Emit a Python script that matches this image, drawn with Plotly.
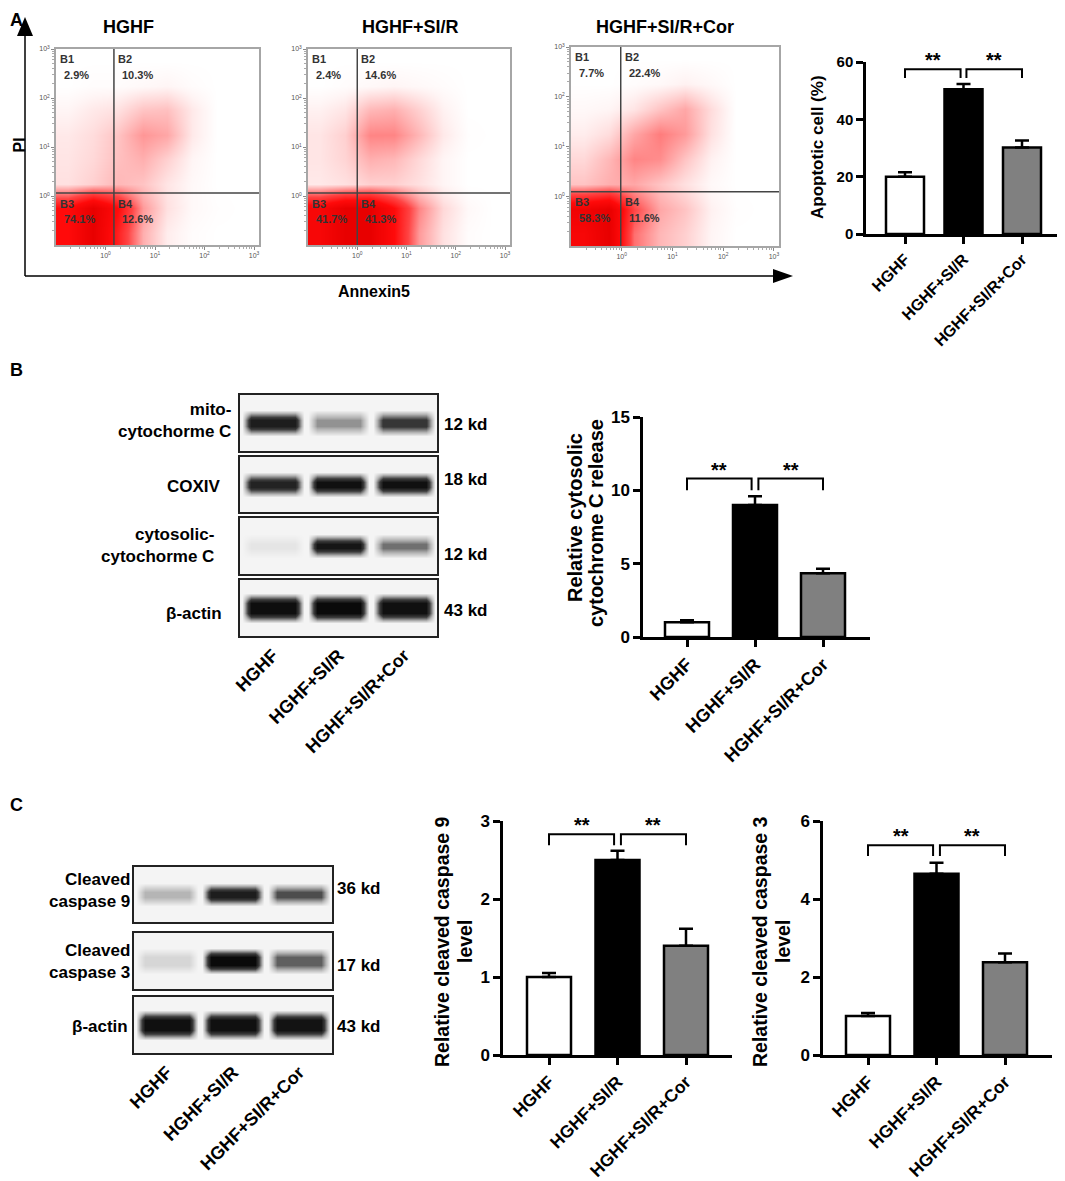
import numpy as np
import plotly.graph_objects as go

W, H = 1065, 1181
OFF = 8  # page body margin; layout is measured in window pixels
FONT = "Arial, Liberation Sans, sans-serif"

GROUPS = ["HGHF", "HGHF+SI/R", "HGHF+SI/R+Cor"]

# --- panel A: Annexin V / PI dot plots -------------------------------------
FLOW_QUADS = ["B1", "B2", "B3", "B4"]
FLOW_PCT = [
    ["2.9%", "10.3%", "74.1%", "12.6%"],
    ["2.4%", "14.6%", "41.7%", "41.3%"],
    ["7.7%", "22.4%", "58.3%", "11.6%"],
]
FLOW_GATE_X = [0.17, 0.0, -0.02]  # log10 Annexin gate
FLOW_GATE_Y = [0.06, 0.06, 0.09]  # log10 PI gate
FLOW_BINS = [-0.75, -0.25, 0.25, 0.75, 1.25, 1.75, 2.25, 2.75]  # log10 bin centres
# event density; rows = PI bins (low -> high), cols = Annexin bins
FLOW_DENSITY = [
    [
        [7, 10, 6, 2, 0.5, 0.1, 0, 0],
        [7, 10, 7, 2.5, 0.8, 0.2, 0.05, 0],
        [0.8, 1.2, 1.8, 1.5, 0.7, 0.2, 0, 0],
        [0.7, 1.0, 1.6, 2.0, 1.2, 0.3, 0, 0],
        [0.6, 0.9, 1.5, 2.6, 2.2, 0.6, 0, 0],
        [0.3, 0.6, 0.8, 1.5, 1.6, 0.6, 0, 0],
        [0, 0.1, 0.1, 0.2, 0.3, 0.1, 0, 0],
        [0, 0, 0, 0, 0, 0, 0, 0],
    ],
    [
        [8, 10, 10, 7, 2.5, 0.8, 0.1, 0],
        [8, 10, 10, 7, 3, 1, 0.2, 0],
        [0.6, 0.8, 1.2, 1.2, 0.8, 0.3, 0, 0],
        [0.7, 1.1, 2.0, 1.8, 1.0, 0.3, 0, 0],
        [0.7, 1.2, 3.0, 3.0, 1.8, 0.6, 0.05, 0],
        [0.4, 0.7, 1.8, 2.0, 1.2, 0.4, 0, 0],
        [0, 0.1, 0.2, 0.3, 0.2, 0.1, 0, 0],
        [0, 0, 0, 0, 0, 0, 0, 0],
    ],
    [
        [8, 10, 3.5, 1.8, 1.2, 0.3, 0, 0],
        [9, 10, 4.5, 2.2, 1.5, 0.4, 0.05, 0],
        [1.5, 2.0, 2.2, 1.5, 0.8, 0.2, 0, 0],
        [1.0, 1.8, 3.0, 2.8, 1.5, 0.4, 0, 0],
        [0.5, 0.9, 2.2, 3.2, 2.5, 0.8, 0, 0],
        [0.2, 0.3, 0.7, 1.5, 2.2, 0.9, 0, 0],
        [0, 0, 0.1, 0.2, 0.4, 0.2, 0, 0],
        [0, 0, 0, 0, 0, 0, 0, 0],
    ],
]

APOP_MEAN = [20.0, 50.5, 30.2]
APOP_ERR = [1.5, 1.8, 2.4]

# --- panel B: cytochrome C western blot -----------------------------------
BLOT_B_LABELS = ["mito-<br>cytochorme C", "COXIV", "cytosolic-<br>cytochorme C", "β-actin"]
BLOT_B_KD = ["12 kd", "18 kd", "12 kd", "43 kd"]
BLOT_B_BANDS = [  # band darkness per lane, 0..1
    [0.85, 0.35, 0.65],
    [0.8, 0.95, 0.95],
    [0.06, 0.9, 0.45],
    [0.97, 1.0, 0.95],
]
CYTC_MEAN = [1.0, 9.0, 4.35]
CYTC_ERR = [0.15, 0.6, 0.3]

# --- panel C: cleaved caspases ---------------------------------------------
BLOT_C_LABELS = ["Cleaved<br>caspase 9", "Cleaved<br>caspase 3", "β-actin"]
BLOT_C_KD = ["36 kd", "17 kd", "43 kd"]
BLOT_C_BANDS = [
    [0.25, 0.85, 0.55],
    [0.12, 1.0, 0.5],
    [0.95, 0.95, 0.93],
]
CASP9_MEAN = [1.0, 2.5, 1.4]
CASP9_ERR = [0.05, 0.12, 0.22]
CASP3_MEAN = [1.0, 4.65, 2.38]
CASP3_ERR = [0.08, 0.28, 0.22]

BAR_COLORS = ["white", "black", "#808080"]

fig = go.Figure()
_n = [0]


def xd(px):
    return (px - OFF) / W


def yd(py):
    return 1 - (py - OFF) / H


def new_axes(l, r, t, b, xkw, ykw):
    _n[0] += 1
    s = "" if _n[0] == 1 else str(_n[0])
    fig.update_layout({
        f"xaxis{s}": dict(domain=[xd(l), xd(r)], anchor=f"y{s}", automargin=False, **xkw),
        f"yaxis{s}": dict(domain=[yd(b), yd(t)], anchor=f"x{s}", automargin=False, **ykw),
    })
    return f"x{s}", f"y{s}"


def text(x, y, s, size, xanchor="center", yanchor="middle", color="black", **kw):
    fig.add_annotation(x=x, y=y, text=s, showarrow=False, xanchor=xanchor, yanchor=yanchor,
                       font=dict(family=FONT, size=size, color=color, weight="bold"), **kw)


def ptext(px, py, s, size, **kw):
    text(xd(px), yd(py), s, size, xref="paper", yref="paper", **kw)


# ---------------------------------------------------------------- panel A
FLOW_BOX = [(56, 49, 259, 245), (308, 49, 510, 245), (571, 47, 779, 246)]
FLOW_TITLE_X = [128, 410, 665]
FLOW_CS = [[0, "#ffffff"], [0.03, "#fff5f5"], [0.12, "#ffd0d0"], [0.25, "#ff9a9a"],
           [0.45, "#ff4444"], [0.7, "#ff0a0a"], [1, "#e80000"]]
minor = [d + np.log10(k) for d in range(-1, 3) for k in range(2, 10)]
dec_txt = ["10<sup>%d</sup>" % d for d in range(4)]

for i, (l, t, r, b) in enumerate(FLOW_BOX):
    frame = dict(showline=True, mirror=True, linecolor="#a6a6a6", linewidth=1.5,
                 showgrid=False, zeroline=False, ticks="outside", ticklen=3, tickcolor="#888",
                 tickvals=list(range(4)), ticktext=dec_txt,
                 tickfont=dict(family=FONT, size=7, color="#555"),
                 minor=dict(tickvals=minor, ticks="outside", ticklen=2, tickcolor="#aaa"))
    xa, ya = new_axes(l, r, t, b, dict(range=[-1, 3.1], **frame), dict(range=[-1, 3], **frame))
    fig.add_trace(go.Heatmap(x=FLOW_BINS, y=FLOW_BINS, z=FLOW_DENSITY[i], zmin=0, zmax=10,
                             zsmooth="best", colorscale=FLOW_CS, showscale=False,
                             hoverinfo="skip", xaxis=xa, yaxis=ya))
    gx, gy = FLOW_GATE_X[i], FLOW_GATE_Y[i]
    gate = dict(color="#444", width=1.5)
    fig.add_shape(type="line", xref=xa, yref=ya, x0=gx, x1=gx, y0=-1, y1=3, line=gate)
    fig.add_shape(type="line", xref=xa, yref=ya, x0=-1, x1=3.1, y0=gy, y1=gy, line=gate)
    corners = [(-1, 3), (gx, 3), (-1, gy), (gx, gy)]
    for q, (cx, cy) in enumerate(corners):
        text(cx + 0.04, cy - 0.05, FLOW_QUADS[q], 11, color="#333", xref=xa, yref=ya,
             xanchor="left", yanchor="top")
        text(cx + 0.12, cy - 0.36, FLOW_PCT[i][q], 11, color="#333", xref=xa, yref=ya,
             xanchor="left", yanchor="top")
    ptext(FLOW_TITLE_X[i], 27, GROUPS[i], 18)

# big PI / Annexin5 arrows
ax_line = dict(color="black", width=1.5)
fig.add_shape(type="line", xref="paper", yref="paper", x0=xd(25), x1=xd(25), y0=yd(276), y1=yd(34), line=ax_line)
fig.add_shape(type="line", xref="paper", yref="paper", x0=xd(25), x1=xd(775), y0=yd(276), y1=yd(276), line=ax_line)
fig.add_shape(type="path", xref="paper", yref="paper", fillcolor="black", line=dict(width=0),
              path=f"M {xd(25)},{yd(17)} L {xd(17)},{yd(36)} L {xd(33)},{yd(36)} Z")
fig.add_shape(type="path", xref="paper", yref="paper", fillcolor="black", line=dict(width=0),
              path=f"M {xd(793)},{yd(276)} L {xd(773)},{yd(269)} L {xd(773)},{yd(283)} Z")
ptext(9, 145, "PI", 16, textangle=-90, xanchor="left")
ptext(374, 292, "Annexin5", 16)

PANEL_LABELS = [("A", OFF), ("B", 358), ("C", 793)]
for s, y in PANEL_LABELS:
    ptext(OFF, y, s, 18, xanchor="left", yanchor="top")


# ---------------------------------------------------------------- bar charts
def bar_panel(means, errs, geo, yticks, brackets, fs, titles, title_fs):
    ax_l, ax_r, y0, ppu, ymax, cx0, step, bw = geo
    line_kw = dict(showline=True, linecolor="black", linewidth=2.5, ticks="outside",
                   tickwidth=2.5, tickcolor="black", ticklen=7, showgrid=False, zeroline=False)
    xa, ya = new_axes(
        ax_l, ax_r, y0 - ymax * ppu, y0,
        dict(range=[(ax_l - cx0) / step, (ax_r - cx0) / step], tickvals=[0, 1, 2],
             ticktext=GROUPS, tickangle=-45,
             tickfont=dict(family=FONT, size=fs[0], weight="bold"), **line_kw),
        dict(range=[0, ymax], tickvals=yticks,
             tickfont=dict(family=FONT, size=fs[1], weight="bold"), **line_kw),
    )
    fig.add_trace(go.Bar(
        x=[0, 1, 2], y=means, width=bw / step, xaxis=xa, yaxis=ya,
        marker=dict(color=BAR_COLORS, line=dict(color="black", width=2.5)),
        error_y=dict(type="data", array=errs, arrayminus=[0, 0, 0], symmetric=False,
                     color="black", thickness=2.5, width=7),
        showlegend=False, hoverinfo="skip", cliponaxis=False,
    ))
    top, leg = brackets
    for a, c in [(0, 0.95), (1.05, 2)]:
        fig.add_shape(type="path", xref=xa, yref=ya, line=dict(color="black", width=2),
                      path=f"M {a},{leg} L {a},{top} L {c},{top} L {c},{leg}")
        text((a + c) / 2, top, "**", 20, xref=xa, yref=ya, yanchor="bottom", yshift=-4)
    for s, tx, ty in titles:
        ptext(tx, ty, s, title_fs, textangle=-90)


bar_panel(APOP_MEAN, APOP_ERR, (866, 1062, 234, 172 / 60, 60, 905, 58.5, 38),
          [0, 20, 40, 60], (57.5, 54.4), (16, 15), [("Apoptotic cell (%)", 817, 147)], 17)
bar_panel(CYTC_MEAN, CYTC_ERR, (643, 870, 637, 220 / 15, 15, 687, 68, 44),
          [0, 5, 10, 15], (10.8, 10.0), (18, 17),
          [("Relative cytosolic", 575, 518), ("cytochrome C release", 596, 523)], 20)
bar_panel(CASP9_MEAN, CASP9_ERR, (503, 732, 1055, 78, 3, 549, 68.5, 44),
          [0, 1, 2, 3], (2.83, 2.69), (17.5, 17),
          [("Relative cleaved caspase 9", 442, 942), ("level", 465, 942)], 19.5)
bar_panel(CASP3_MEAN, CASP3_ERR, (823, 1052, 1055, 39, 6, 868, 68.5, 44),
          [0, 2, 4, 6], (5.38, 5.1), (17.5, 17),
          [("Relative cleaved caspase 3", 760, 942), ("level", 783, 942)], 19.5)


# ---------------------------------------------------------------- western blots
BLOT_CS = [[0, "#f4f4f4"], [0.25, "#b5b5b5"], [0.6, "#3c3c3c"], [1, "#0a0a0a"]]


def blot(box, bands, half, last, fs):
    l, t, r, b = box
    kw = dict(showline=True, mirror=True, linecolor="#222", linewidth=1.5, showgrid=False,
              zeroline=False, ticks="")
    xkw = dict(range=[0, 3], **kw)
    if last:
        xkw.update(tickvals=[0.5, 1.5, 2.5], ticktext=GROUPS, tickangle=-45,
                   tickfont=dict(family=FONT, size=fs, weight="bold"))
    else:
        xkw.update(showticklabels=False)
    xa, ya = new_axes(l, r, t, b, xkw, dict(range=[-1, 1], showticklabels=False, **kw))
    xs, vx = [], []
    for i, v in enumerate(bands):
        xs += [i + 0.03, i + 0.17, i + 0.83, i + 0.97]
        vx += [0, v, v, 0]
    ys = [-1.1, -half - 0.35, -half, half, half + 0.35, 1.1]
    vy = [0, 0, 1, 1, 0, 0]
    z = [[a * c for c in vx] for a in vy]
    fig.add_shape(type="rect", xref=xa, yref=ya, x0=0, x1=3, y0=-1, y1=1, layer="below",
                  fillcolor="#f4f4f4", line=dict(width=0))
    fig.add_trace(go.Heatmap(x=xs, y=ys, z=z, zmin=0, zmax=1, zsmooth="best",
                             colorscale=BLOT_CS, showscale=False, hoverinfo="skip",
                             xaxis=xa, yaxis=ya))


BLOT_B_BOX = [(240, 395, 437, 451), (240, 457, 437, 512), (240, 518, 437, 574), (240, 580, 437, 636)]
BLOT_B_HALF = [0.1, 0.1, 0.08, 0.18]
BLOT_B_LABEL_XY = [(233, 420), (223, 486), (216, 545), (224, 613)]
BLOT_B_KD_Y = [425, 479, 555, 610]
for k, box in enumerate(BLOT_B_BOX):
    blot(box, BLOT_B_BANDS[k], BLOT_B_HALF[k], k == len(BLOT_B_BOX) - 1, 18)
    lx, ly = BLOT_B_LABEL_XY[k]
    ptext(lx, ly, BLOT_B_LABELS[k], 17, xanchor="right", align="right")
    ptext(442, BLOT_B_KD_Y[k], BLOT_B_KD[k], 17, xanchor="left")

BLOT_C_BOX = [(134, 867, 332, 922), (134, 933, 332, 989), (134, 997, 332, 1053)]
BLOT_C_HALF = [0.08, 0.13, 0.18]
BLOT_C_LABEL_XY = [(132, 890), (132, 962), (130, 1027)]
BLOT_C_KD_Y = [888, 965, 1027]
for k, box in enumerate(BLOT_C_BOX):
    blot(box, BLOT_C_BANDS[k], BLOT_C_HALF[k], k == len(BLOT_C_BOX) - 1, 18)
    lx, ly = BLOT_C_LABEL_XY[k]
    ptext(lx, ly, BLOT_C_LABELS[k], 17, xanchor="right", align="right")
    ptext(335, BLOT_C_KD_Y[k], BLOT_C_KD[k], 17, xanchor="left")

fig.update_layout(
    width=W, height=H, margin=dict(l=0, r=0, t=0, b=0, pad=0),
    paper_bgcolor="white", plot_bgcolor="rgba(0,0,0,0)",
    font=dict(family=FONT, color="black"), showlegend=False,
)
fig.write_html("out.html")
